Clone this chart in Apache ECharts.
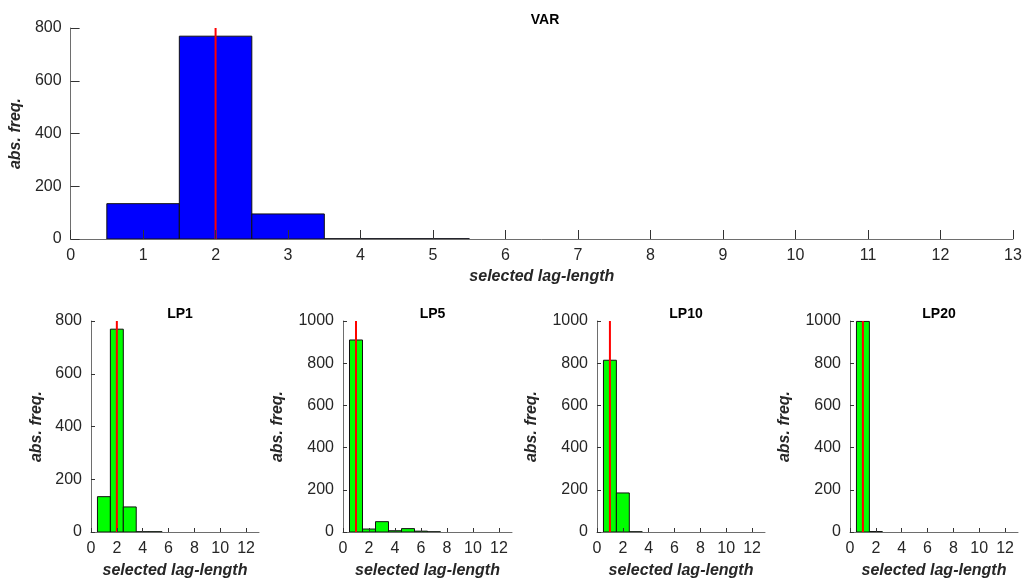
<!DOCTYPE html>
<html>
<head>
<meta charset="utf-8">
<script src="https://cdn.jsdelivr.net/npm/echarts@6/dist/echarts.min.js"></script>
<style>
  html, body { margin: 0; padding: 0; background: #fff; }
  #chart { width: 1027px; height: 581px; }
</style>
</head>
<body>
<div id="chart"></div>
<script>
// Lag lengths (histogram bin centres)
const lags = [1, 2, 3, 4, 5, 6, 7];

// Absolute frequencies of the selected lag length per model
const varFreq  = [134, 769, 95, 1, 1, 0, 0];
const lp1Freq  = [134, 769, 95, 1, 1, 0, 0];
const lp5Freq  = [910, 14, 49, 6, 16, 4, 1];
const lp10Freq = [814, 185, 1, 0, 0, 0, 0];
const lp20Freq = [998, 2, 0, 0, 0, 0, 0];

// Reference lag (red vertical line) per model
const varRef = 2, lp1Ref = 2, lp5Ref = 1, lp10Ref = 1, lp20Ref = 1;

// Panel titles
const panelTitles = ['VAR', 'LP1', 'LP5', 'LP10', 'LP20'];

// Axis ticks
const topXTicks = [0, 1, 2, 3, 4, 5, 6, 7, 8, 9, 10, 11, 12, 13];
const smallXTicks = [0, 2, 4, 6, 8, 10, 12];

const FONT = '"Liberation Sans", Arial, Helvetica, sans-serif';
const TXT = '#262626';
const AXIS = '#6e6e6e';

const chart = echarts.init(document.getElementById('chart'), null, { renderer: 'canvas' });

const panels = [
  { title: panelTitles[0], freq: varFreq,  ref: varRef,  yMax: 800,  color: '#0000ff', grid: { left: 67,  top: 28,  width: 946, height: 211 }, big: true },
  { title: panelTitles[1], freq: lp1Freq,  ref: lp1Ref,  yMax: 800,  color: '#00ff00', grid: { left: 91,  top: 321, width: 168, height: 211 }, nameGap: 46 },
  { title: panelTitles[2], freq: lp5Freq,  ref: lp5Ref,  yMax: 1000, color: '#00ff00', grid: { left: 343, top: 321, width: 169, height: 211 }, nameGap: 57 },
  { title: panelTitles[3], freq: lp10Freq, ref: lp10Ref, yMax: 1000, color: '#00ff00', grid: { left: 597, top: 321, width: 168, height: 211 }, nameGap: 57 },
  { title: panelTitles[4], freq: lp20Freq, ref: lp20Ref, yMax: 1000, color: '#00ff00', grid: { left: 850, top: 321, width: 168, height: 211 }, nameGap: 57 }
];

// One histogram bin: a rectangle one lag wide centred on its lag
function histRenderer(color) {
  return function (params, api) {
    const x = api.value(0), y = api.value(1);
    if (!(y > 0)) return null;
    const p0 = api.coord([x - 0.5, y]);
    const p1 = api.coord([x + 0.5, 0]);
    return {
      type: 'rect',
      shape: { x: p0[0], y: p0[1], width: p1[0] - p0[0], height: p1[1] - p0[1] },
      style: { fill: color, stroke: '#111', lineWidth: 1 }
    };
  };
}

const grids = [], xAxes = [], yAxes = [], series = [], titles = [];

panels.forEach((p, i) => {
  grids.push(Object.assign({ containLabel: false }, p.grid));
  titles.push({
    text: p.title,
    left: p.grid.left + p.grid.width / 2,
    top: p.big ? 8 : 302,
    textAlign: 'center',
    textStyle: { fontFamily: FONT, fontSize: 14, fontWeight: 'bold', color: '#000' }
  });
  const ticks = p.big ? topXTicks : smallXTicks;
  xAxes.push({
    type: 'value', gridIndex: i, min: 0, max: 13, interval: p.big ? 1 : 2,
    name: 'selected lag-length', nameLocation: 'middle', nameGap: p.big ? 30 : 31,
    nameTextStyle: { fontFamily: FONT, fontSize: 16, fontWeight: 'bold', fontStyle: 'italic', color: TXT },
    axisLine: { show: true, lineStyle: { color: AXIS, width: 1 } },
    axisTick: { show: true, inside: true, length: p.big ? 9 : 4, customValues: ticks, lineStyle: { color: '#333' } },
    axisLabel: { customValues: ticks, margin: 9, fontFamily: FONT, fontSize: 16, color: TXT, formatter: v => String(v) },
    splitLine: { show: false },
    z: 5
  });
  yAxes.push({
    type: 'value', gridIndex: i, min: 0, max: p.yMax, interval: 200,
    name: 'abs. freq.', nameLocation: 'middle', nameGap: p.big ? 42 : p.nameGap,
    nameTextStyle: { fontFamily: FONT, fontSize: 16, fontWeight: 'bold', fontStyle: 'italic', color: TXT },
    axisLine: { show: true, lineStyle: { color: AXIS, width: 1 } },
    axisTick: { show: true, inside: true, length: p.big ? 9 : 4, lineStyle: { color: '#333' } },
    axisLabel: { margin: 9, fontFamily: FONT, fontSize: 16, color: TXT, formatter: v => String(v) },
    splitLine: { show: false },
    z: 5
  });
  series.push({
    type: 'custom', xAxisIndex: i, yAxisIndex: i,
    renderItem: histRenderer(p.color),
    data: lags.map((l, k) => [l, p.freq[k]]),
    silent: true, z: 2
  });
  series.push({
    type: 'line', xAxisIndex: i, yAxisIndex: i,
    data: [[p.ref, 0], [p.ref, p.yMax]],
    symbol: 'none', silent: true, z: 3,
    lineStyle: { color: '#ff0000', width: 2 }
  });
});

chart.setOption({
  animation: false,
  backgroundColor: '#ffffff',
  title: titles,
  grid: grids,
  xAxis: xAxes,
  yAxis: yAxes,
  series: series
});
</script>
</body>
</html>
